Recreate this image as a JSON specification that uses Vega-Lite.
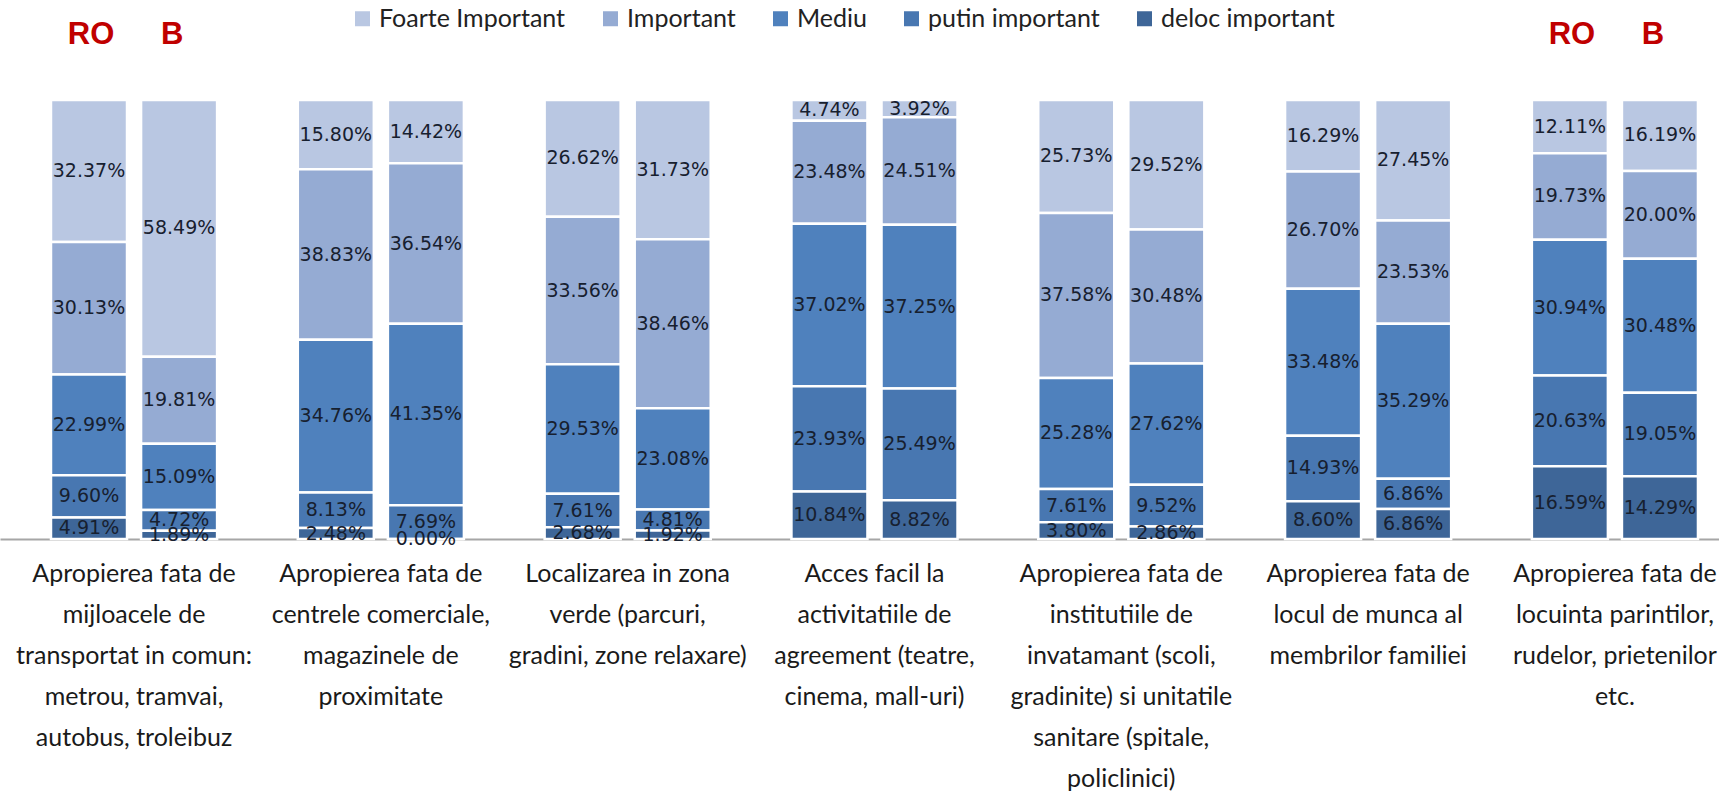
{
  "$schema": "https://vega.github.io/schema/vega-lite/v6.json",
  "autosize": "none",
  "padding": {"left": 0, "top": 100, "right": 0, "bottom": 255},
  "width": 1719,
  "height": 439,
  "background": "white",
  "config": {"view": {"stroke": null}},
  "datasets": {
    "cats": [
      {"g": 1, "cat": "Apropierea fata de|mijloacele de|transportat in comun:|metrou, tramvai,|autobus, troleibuz"},
      {"g": 2, "cat": "Apropierea fata de|centrele comerciale,|magazinele de|proximitate"},
      {"g": 3, "cat": "Localizarea in zona|verde (parcuri,|gradini, zone relaxare)"},
      {"g": 4, "cat": "Acces facil la|activitatiile de|agreement (teatre,|cinema, mall-uri)"},
      {"g": 5, "cat": "Apropierea fata de|institutiile de|invatamant  (scoli,|gradinite) si unitatile|sanitare (spitale,|policlinici)"},
      {"g": 6, "cat": "Apropierea fata de|locul de munca al|membrilor familiei"},
      {"g": 7, "cat": "Apropierea fata de|locuinta parintilor,|rudelor, prietenilor|etc."}
    ],
    "levels": [
      {"l": "deloc important", "k": 1},
      {"l": "putin important", "k": 2},
      {"l": "Mediu", "k": 3},
      {"l": "Important", "k": 4},
      {"l": "Foarte Important", "k": 5}
    ],
    "wide": [
      {"g": 1, "s": "RO", "Foarte Important": 0.3237, "Important": 0.3013, "Mediu": 0.2299, "putin important": 0.0960, "deloc important": 0.0491},
      {"g": 1, "s": "B", "Foarte Important": 0.5849, "Important": 0.1981, "Mediu": 0.1509, "putin important": 0.0472, "deloc important": 0.0189},
      {"g": 2, "s": "RO", "Foarte Important": 0.1580, "Important": 0.3883, "Mediu": 0.3476, "putin important": 0.0813, "deloc important": 0.0248},
      {"g": 2, "s": "B", "Foarte Important": 0.1442, "Important": 0.3654, "Mediu": 0.4135, "putin important": 0.0769, "deloc important": 0.0000},
      {"g": 3, "s": "RO", "Foarte Important": 0.2662, "Important": 0.3356, "Mediu": 0.2953, "putin important": 0.0761, "deloc important": 0.0268},
      {"g": 3, "s": "B", "Foarte Important": 0.3173, "Important": 0.3846, "Mediu": 0.2308, "putin important": 0.0481, "deloc important": 0.0192},
      {"g": 4, "s": "RO", "Foarte Important": 0.0474, "Important": 0.2348, "Mediu": 0.3702, "putin important": 0.2393, "deloc important": 0.1084},
      {"g": 4, "s": "B", "Foarte Important": 0.0392, "Important": 0.2451, "Mediu": 0.3725, "putin important": 0.2549, "deloc important": 0.0882},
      {"g": 5, "s": "RO", "Foarte Important": 0.2573, "Important": 0.3758, "Mediu": 0.2528, "putin important": 0.0761, "deloc important": 0.0380},
      {"g": 5, "s": "B", "Foarte Important": 0.2952, "Important": 0.3048, "Mediu": 0.2762, "putin important": 0.0952, "deloc important": 0.0286},
      {"g": 6, "s": "RO", "Foarte Important": 0.1629, "Important": 0.2670, "Mediu": 0.3348, "putin important": 0.1493, "deloc important": 0.0860},
      {"g": 6, "s": "B", "Foarte Important": 0.2745, "Important": 0.2353, "Mediu": 0.3529, "putin important": 0.0686, "deloc important": 0.0686},
      {"g": 7, "s": "RO", "Foarte Important": 0.1211, "Important": 0.1973, "Mediu": 0.3094, "putin important": 0.2063, "deloc important": 0.1659},
      {"g": 7, "s": "B", "Foarte Important": 0.1619, "Important": 0.2000, "Mediu": 0.3048, "putin important": 0.1905, "deloc important": 0.1429}
    ],
    "rob": [
      {"cat": "Apropierea fata de|mijloacele de|transportat in comun:|metrou, tramvai,|autobus, troleibuz", "s": "RO"},
      {"cat": "Apropierea fata de|mijloacele de|transportat in comun:|metrou, tramvai,|autobus, troleibuz", "s": "B"},
      {"cat": "Apropierea fata de|locuinta parintilor,|rudelor, prietenilor|etc.", "s": "RO"},
      {"cat": "Apropierea fata de|locuinta parintilor,|rudelor, prietenilor|etc.", "s": "B"}
    ]
  },
  "encoding": {
    "x": {
      "field": "cat", "type": "nominal", "sort": null,
      "scale": {"paddingInner": 0.327, "paddingOuter": 0.1459, "align": 0.708, "round": false},
      "axis": {
        "title": null, "labelAngle": 0, "ticks": false, "grid": false,
        "domain": true, "domainColor": "#a6a6a6", "domainWidth": 2,
        "labelFont": "Lato", "labelFontSize": 25, "labelColor": "#1a1a1a",
        "labelLineHeight": 41, "labelPadding": 22, "labelLimit": 400,
        "labelExpr": "split(datum.label, '|')"
      }
    },
    "xOffset": {"field": "s", "type": "nominal", "sort": ["RO", "B"], "scale": {"paddingInner": 0.156, "paddingOuter": 0}}
  },
  "layer": [
    {
      "data": {"name": "wide"},
      "transform": [
        {"fold": ["Foarte Important", "Important", "Mediu", "putin important", "deloc important"], "as": ["l", "p"]},
        {"lookup": "l", "from": {"data": {"name": "levels"}, "key": "l", "fields": ["k"]}},
        {"lookup": "g", "from": {"data": {"name": "cats"}, "key": "g", "fields": ["cat"]}},
        {"stack": "p", "groupby": ["g", "s"], "sort": [{"field": "k", "order": "ascending"}], "as": ["lo", "hi"]},
        {"calculate": "(datum.lo + datum.hi) / 2", "as": "mid"}
      ],
      "layer": [
        {
          "mark": {"type": "bar", "stroke": "white", "strokeWidth": 2.5},
          "encoding": {
            "y": {"field": "lo", "type": "quantitative", "scale": {"domain": [0, 1]}, "axis": null},
            "y2": {"field": "hi"},
            "color": {
              "field": "l", "type": "nominal",
              "scale": {
                "domain": ["Foarte Important", "Important", "Mediu", "putin important", "deloc important"],
                "range": ["#b9c7e2", "#95abd3", "#4f81bd", "#4877b1", "#3e6698"]
              },
              "legend": {
                "title": null, "orient": "none", "direction": "horizontal",
                "legendX": 350, "legendY": -94, "padding": 0,
                "symbolType": "square", "symbolSize": 225, "symbolStrokeWidth": 0,
                "labelFont": "Lato", "labelFontSize": 25, "labelColor": "#222222",
                "labelOffset": 4, "columnPadding": 32, "labelLimit": 0
              }
            }
          }
        },
        {
          "mark": {"type": "text", "font": "DejaVu Sans", "fontSize": 19, "color": "#17202f", "baseline": "middle", "align": "center"},
          "encoding": {
            "y": {"field": "mid", "type": "quantitative"},
            "text": {"field": "p", "type": "quantitative", "format": ".2%"}
          }
        }
      ]
    },
    {
      "data": {"name": "rob"},
      "transform": [{"filter": "datum.s === 'RO'"}],
      "mark": {"type": "text", "font": "Liberation Sans", "fontWeight": "bold", "fontSize": 31, "color": "#c00000", "baseline": "middle", "align": "center", "dx": 2},
      "encoding": {
        "y": {"datum": 1.149},
        "text": {"field": "s", "type": "nominal"}
      }
    },
    {
      "data": {"name": "rob"},
      "transform": [{"filter": "datum.s === 'B'"}],
      "mark": {"type": "text", "font": "Liberation Sans", "fontWeight": "bold", "fontSize": 31, "color": "#c00000", "baseline": "middle", "align": "center", "dx": -7},
      "encoding": {
        "y": {"datum": 1.149},
        "text": {"field": "s", "type": "nominal"}
      }
    }
  ]
}
